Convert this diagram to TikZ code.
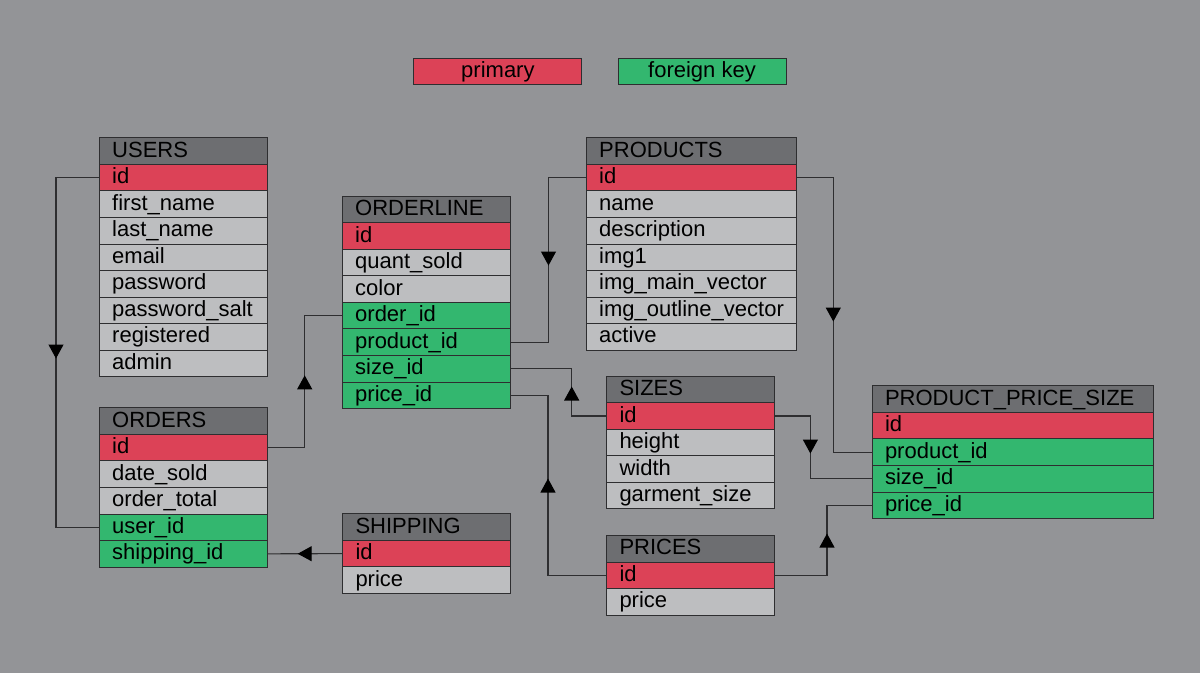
\documentclass[tikz,border=0pt]{standalone}
\usepackage{fontspec}
\setmainfont{Liberation Sans}
\usetikzlibrary{arrows.meta,decorations.markings}
\definecolor{bg}{HTML}{939497}
\definecolor{hdr}{HTML}{6D6E71}
\definecolor{pk}{HTML}{DC4257}
\definecolor{fk}{HTML}{33B76F}
\definecolor{fld}{HTML}{BDBEC0}
\definecolor{edge}{HTML}{2E2E30}
\tikzset{
  cell/.style={draw=edge, line width=1pt, anchor=north west, minimum height=26.55pt,
    inner ysep=0pt, inner xsep=13pt, text width=#1, align=left,
    text height=15pt, text depth=3pt, font=\fontsize{22}{24}\selectfont},
  legend/.style={draw=edge, line width=1pt, minimum width=168pt, minimum height=26.3pt,
    inner sep=0pt, text height=15pt, text depth=3pt, font=\fontsize{22}{24}\selectfont},
  conn/.style={draw=edge, line width=1.1pt},
  tri/.tip={Triangle[length=14pt,width=15pt,color=black]},
  midarrow/.style={postaction={decorate,decoration={markings,
    mark=at position #1 with {\arrow{tri}}}}}
}
\newcommand\mktable[5]{%
  \foreach \txt/\kind [count=\i from 0] in {#5} {
    \node[cell=#4, fill=\kind] (#1-\i) at (#2, {#3+\i*26.55}) {\txt};
  }%
}
\begin{document}
\begin{tikzpicture}[x=1pt,y=-1pt]
\fill[bg] (0,0) rectangle (1200,673);
\useasboundingbox (0,0) rectangle (1200,673);

% legend
\node[legend, fill=pk] (lpk) at (497.9,71.2) {primary};
\node[legend, fill=fk] (lfk) at (702,71.2) {foreign key};

% tables
\mktable{users}{98.7}{137.3}{142pt}{USERS/hdr, id/pk, first\_name/fld, last\_name/fld, email/fld, password/fld, password\_salt/fld, registered/fld, admin/fld}
\mktable{orders}{98.7}{407.3}{142pt}{ORDERS/hdr, id/pk, date\_sold/fld, order\_total/fld, user\_id/fk, shipping\_id/fk}
\mktable{orderline}{341.7}{195.7}{142pt}{ORDERLINE/hdr, id/pk, quant\_sold/fld, color/fld, order\_id/fk, product\_id/fk, size\_id/fk, price\_id/fk}
\mktable{products}{585.7}{137.3}{184pt}{PRODUCTS/hdr, id/pk, name/fld, description/fld, img1/fld, img\_main\_vector/fld, img\_outline\_vector/fld, active/fld}
\mktable{sizes}{606}{375.7}{142pt}{SIZES/hdr, id/pk, height/fld, width/fld, garment\_size/fld}
\mktable{prices}{606}{535}{142pt}{PRICES/hdr, id/pk, price/fld}
\mktable{shipping}{342}{513.3}{142pt}{SHIPPING/hdr, id/pk, price/fld}
\mktable{pps}{871.5}{385.3}{255pt}{PRODUCT\_PRICE\_SIZE/hdr, id/pk, product\_id/fk, size\_id/fk, price\_id/fk}

% connectors
\draw[conn, midarrow=223.6pt] (users-1.west) -- ++(-42.7,0) |- (orders-4.west);
\draw[conn, midarrow=109.3pt] (orders-1.east) -- ++(37,0) |- (orderline-4.west);
\draw[conn, midarrow=44.3pt] (shipping-1.west) -- (orders-5.east);
\draw[conn, midarrow=125.1pt] (products-1.west) -- ++(-37.2,0) |- (orderline-5.east);
\draw[conn, midarrow=63.8pt] (sizes-1.west) -- ++(-34.3,0) |- (orderline-6.east);
\draw[conn, midarrow=154.8pt] (prices-1.west) -- ++(-58,0) |- (orderline-7.east);
\draw[conn, midarrow=180.5pt] (products-1.east) -- ++(36.6,0) |- (pps-2.west);
\draw[conn, midarrow=72.9pt] (sizes-1.east) -- ++(35.4,0) |- (pps-3.west);
\draw[conn, midarrow=93.8pt] (prices-1.east) -- ++(52,0) |- (pps-4.west);
\end{tikzpicture}
\end{document}
